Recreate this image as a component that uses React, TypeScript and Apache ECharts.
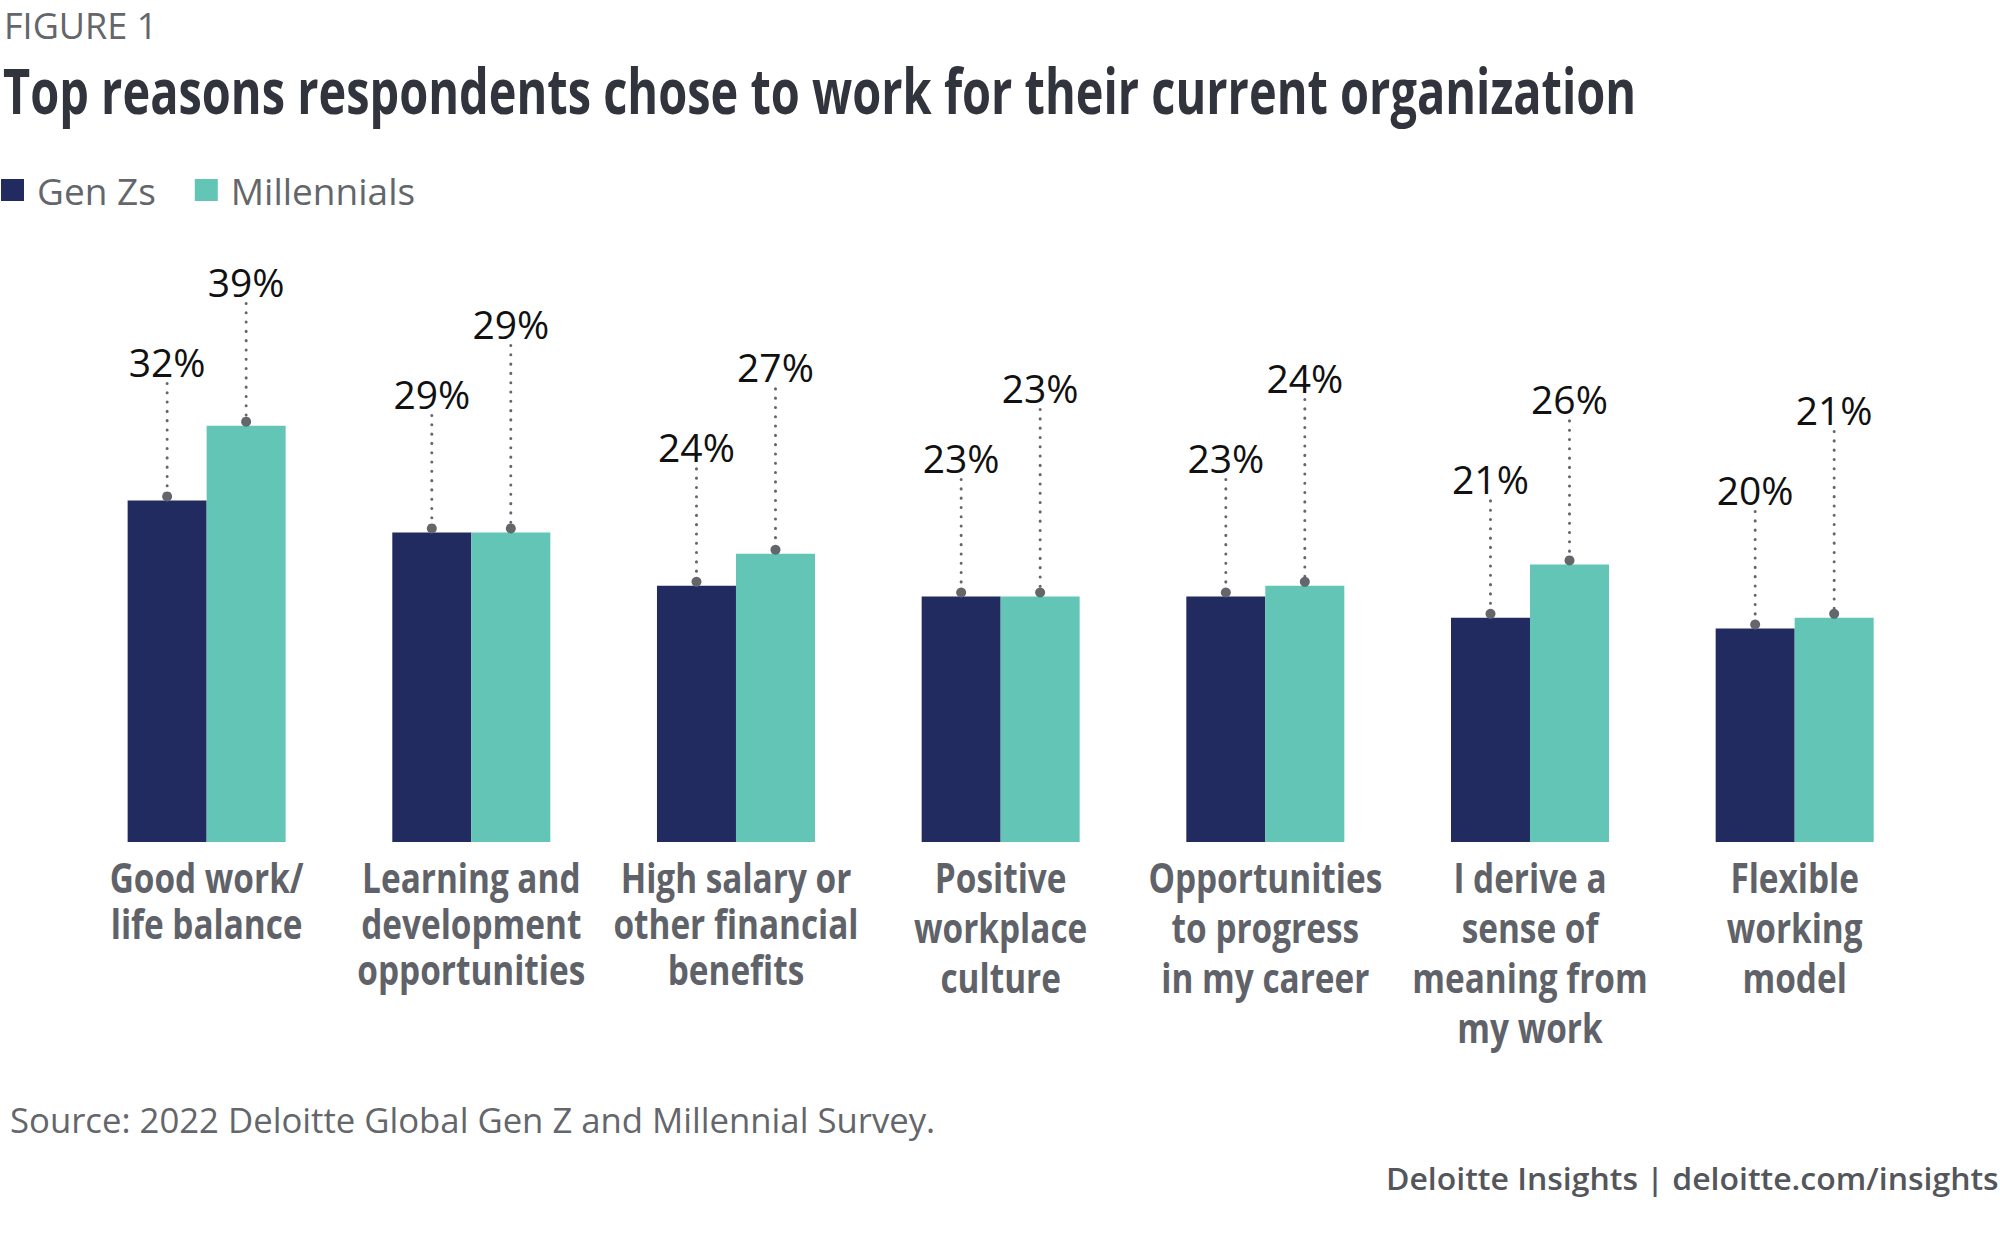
import React, { useEffect, useRef } from "react";
import * as echarts from "echarts";

// ---------- data ----------
const CATEGORIES = [
  "Good work/\nlife balance",
  "Learning and\ndevelopment\nopportunities",
  "High salary or\nother financial\nbenefits",
  "Positive\nworkplace\nculture",
  "Opportunities\nto progress\nin my career",
  "I derive a\nsense of\nmeaning from\nmy work",
  "Flexible\nworking\nmodel",
];
const SERIES_NAMES = ["Gen Zs", "Millennials"];
const GEN_Z = [32, 29, 24, 23, 23, 21, 20];
const MILLENNIALS = [39, 29, 27, 23, 24, 26, 21];

const TITLE = "Top reasons respondents chose to work for their current organization";
const FIGURE_LABEL = "FIGURE 1";
const SOURCE = "Source: 2022 Deloitte Global Gen Z and Millennial Survey.";
const FOOTER = "Deloitte Insights | deloitte.com/insights";

// ---------- style ----------
const NAVY = "#212B5F";
const TEAL = "#63C5B5";
const GRAY = "#63666A";
const DARK = "#31343C";
const BAR_W = 79;
const FONT = '"Open Sans", "Noto Sans", sans-serif';

function fitScale(text: string, font: string, target: number): number {
  try {
    const c = document.createElement("canvas");
    const ctx = c.getContext("2d");
    if (!ctx) return 1;
    ctx.font = font;
    const w = ctx.measureText(text).width;
    return w > 0 ? target / w : 1;
  } catch (e) {
    return 1;
  }
}

export default function App() {
  const ref = useRef<HTMLDivElement>(null);

  useEffect(() => {
    if (!ref.current) return;
    const chart = echarts.init(ref.current, undefined, { renderer: "svg" });

    const titleScale = fitScale(TITLE, 'bold 62px "Open Sans"', 1634);
    const catScale = fitScale("Good work/", 'bold 41px "Open Sans"', 194);
    const footScale = fitScale("Deloitte Insights", '600 30px "Open Sans"', 252);
    const srcScale = fitScale(SOURCE, '34px "Open Sans"', 926);

    const option: any = {
      animation: false,
      backgroundColor: "#ffffff",
      grid: { left: 74.3, right: 73, top: 415, bottom: 408, containLabel: false },
      legend: {
        data: SERIES_NAMES,
        left: 1,
        top: 170,
        icon: "rect",
        itemWidth: 23,
        itemHeight: 22,
        itemGap: 39,
        padding: 0,
        selectedMode: false,
        textStyle: {
          fontFamily: FONT,
          fontSize: 37,
          color: GRAY,
          lineHeight: 40,
          padding: [0, 0, 0, 8],
        },
      },
      xAxis: {
        type: "category",
        data: CATEGORIES,
        axisLine: { show: false },
        axisTick: { show: false },
        axisLabel: { show: false },
        splitLine: { show: false },
      },
      yAxis: {
        type: "value",
        min: 0,
        max: 40,
        show: false,
        splitLine: { show: false },
      },
      graphic: [
        {
          type: "text",
          x: 4,
          y: 6,
          style: {
            text: FIGURE_LABEL,
            fill: GRAY,
            fontFamily: FONT,
            fontSize: 36,
            lineHeight: 38,
            verticalAlign: "top",
            align: "left",
          },
        },
        {
          type: "text",
          x: 3,
          y: 90,
          scaleX: titleScale,
          style: {
            text: TITLE,
            fill: DARK,
            fontFamily: FONT,
            fontWeight: "bold",
            fontSize: 62,
            verticalAlign: "middle",
            align: "left",
          },
        },
        {
          type: "text",
          x: 10,
          y: 1120,
          scaleX: srcScale,
          style: {
            text: SOURCE,
            fill: GRAY,
            fontFamily: FONT,
            fontSize: 34,
            verticalAlign: "middle",
            align: "left",
          },
        },
        {
          type: "text",
          x: 1386,
          y: 1178,
          scaleX: footScale,
          style: {
            text: FOOTER,
            fill: "#53565A",
            fontFamily: FONT,
            fontWeight: 600,
            fontSize: 30,
            verticalAlign: "middle",
            align: "left",
          },
        },
      ],
      series: [
        {
          name: SERIES_NAMES[0],
          type: "bar",
          data: GEN_Z,
          barWidth: BAR_W,
          barGap: "0%",
          itemStyle: { color: NAVY },
          emphasis: { disabled: true },
        },
        {
          name: SERIES_NAMES[1],
          type: "bar",
          data: MILLENNIALS,
          barWidth: BAR_W,
          barGap: "0%",
          itemStyle: { color: TEAL },
          emphasis: { disabled: true },
        },
        {
          name: "values",
          type: "custom",
          z: 5,
          clip: false,
          silent: true,
          data: CATEGORIES.map((_, i) => [i, GEN_Z[i], MILLENNIALS[i]]),
          encode: { x: 0, y: [1, 2] },
          renderItem: (params: any, api: any) => {
            const i = api.value(0);
            const g = api.value(1);
            const m = api.value(2);
            const [cx, gy] = api.coord([i, g]);
            const my = api.coord([i, m])[1];
            const half = BAR_W / 2;
            const gLabel = gy - 139;
            const mLabel = Math.max(my - 209, gLabel - 80);
            const items: any[] = [];
            const add = (x: number, top: number, labelY: number, v: number) => {
              items.push({
                type: "line",
                shape: { x1: x, y1: labelY + 22, x2: x, y2: top - 4 },
                style: { stroke: GRAY, lineWidth: 3, lineDash: [0.1, 9.2], lineCap: "round" },
              });
              items.push({
                type: "circle",
                shape: { cx: x, cy: top - 4, r: 5 },
                style: { fill: GRAY },
              });
              items.push({
                type: "text",
                x: x,
                y: labelY,
                style: {
                  text: v + "%",
                  fill: "#111111",
                  fontFamily: FONT,
                  fontSize: 39,
                  align: "center",
                  verticalAlign: "middle",
                },
              });
            };
            add(cx - half, gy, gLabel, g);
            add(cx + half, my, mLabel, m);
            return { type: "group", children: items };
          },
        },
        {
          name: "categories",
          type: "custom",
          z: 5,
          clip: false,
          silent: true,
          data: CATEGORIES.map((_, i) => [i, 0]),
          encode: { x: 0, y: 1 },
          renderItem: (params: any, api: any) => {
            const i = api.value(0);
            const [cx, by] = api.coord([i, 0]);
            const lh = i < 3 ? 46 : 50;
            return {
              type: "text",
              x: cx,
              y: by + 35 - lh / 2,
              scaleX: catScale,
              style: {
                text: CATEGORIES[i],
                fill: "#5F6369",
                fontFamily: FONT,
                fontWeight: "bold",
                fontSize: 41,
                lineHeight: lh,
                align: "center",
                verticalAlign: "top",
              },
            };
          },
        },
      ],
    };

    chart.setOption(option);
    return () => {
      chart.dispose();
    };
  }, []);

  return (
    <div
      ref={ref}
      style={{ position: "absolute", left: 0, top: 0, width: 2000, height: 1250, background: "#fff" }}
    />
  );
}
